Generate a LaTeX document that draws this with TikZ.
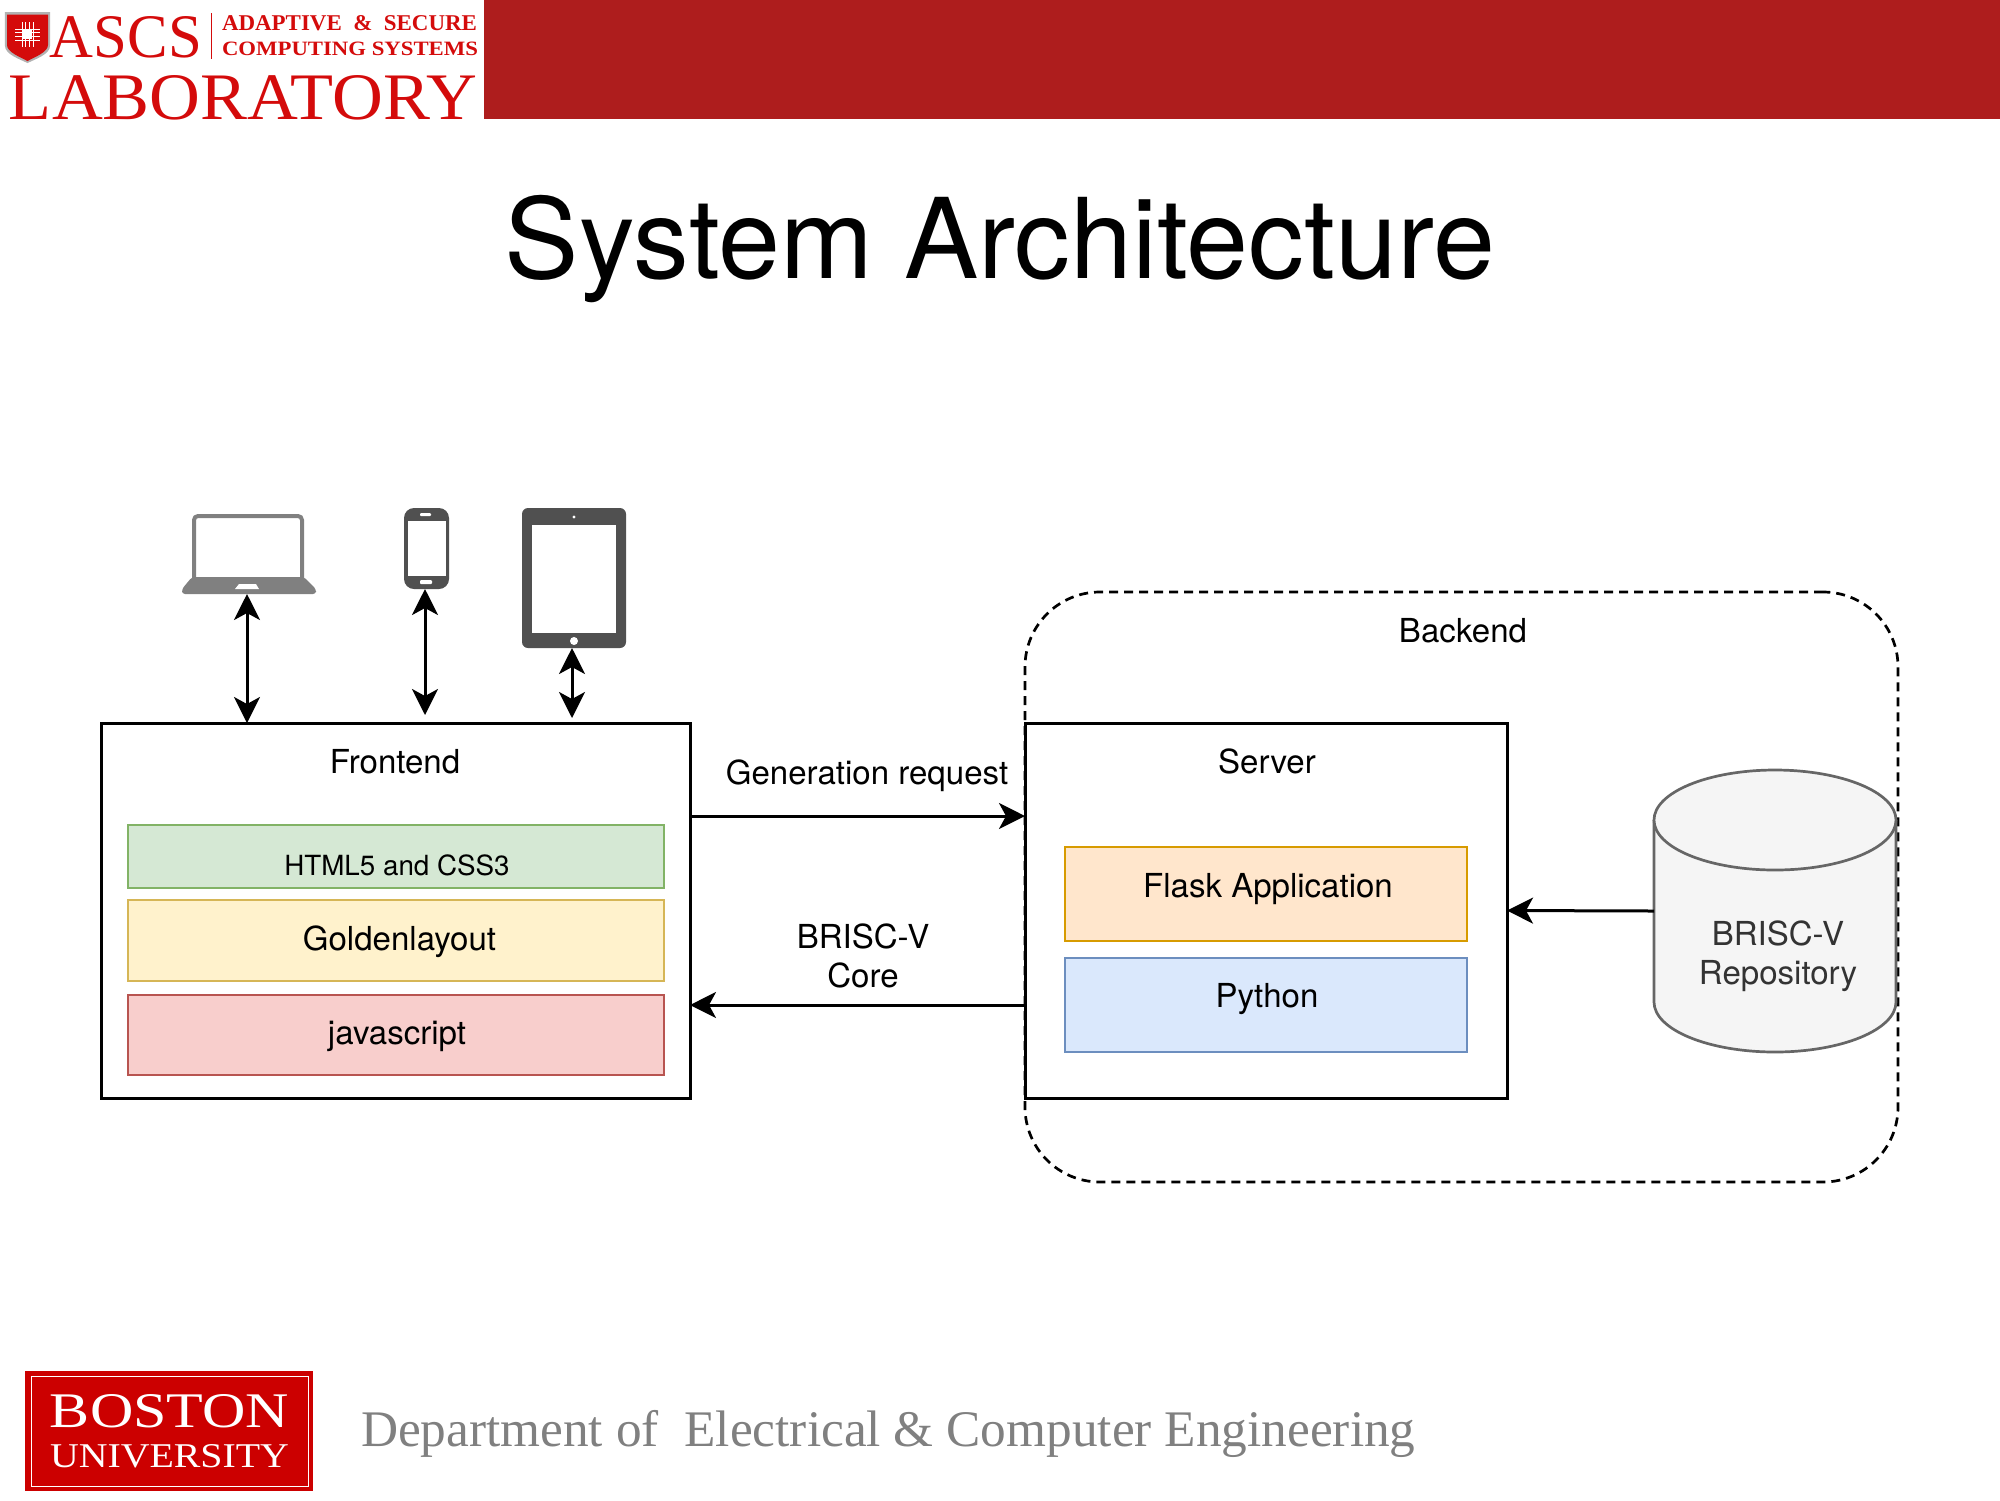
\documentclass[tikz,border=0pt]{standalone}
\usepackage{fontspec}
\setmainfont{TeX Gyre Heros}
\newfontfamily\logofont{Liberation Serif}
\usetikzlibrary{arrows.meta}

\definecolor{barred}{HTML}{AE1D1D}
\definecolor{logored}{HTML}{D40B0B}
\definecolor{burgund}{HTML}{CC0000}
\definecolor{icondark}{HTML}{505050}
\definecolor{iconlight}{HTML}{808080}
\definecolor{htmlline}{RGB}{130,179,102}
\definecolor{htmlfill}{RGB}{213,232,212}
\definecolor{goldline}{RGB}{214,182,86}
\definecolor{goldfill}{RGB}{255,242,204}
\definecolor{jsline}{RGB}{184,84,80}
\definecolor{jsfill}{RGB}{248,206,204}
\definecolor{flaskline}{RGB}{215,155,0}
\definecolor{flaskfill}{RGB}{255,230,204}
\definecolor{pyline}{RGB}{108,142,191}
\definecolor{pyfill}{RGB}{218,232,252}
\definecolor{repoline}{RGB}{102,102,102}
\definecolor{repofill}{RGB}{245,245,245}
\definecolor{repotext}{RGB}{51,51,51}

\tikzset{
	box/.style={draw, line width=0.3mm, fill=white, inner sep=0, outer sep=0},
	layer/.style={draw, line width=0.27mm, inner sep=0, outer sep=0},
	lbl/.style={font=\fontsize{9.4}{11.2}\selectfont, align=center, inner sep=0},
	logotxt/.style={font=\logofont, anchor=north west, inner sep=0, outer sep=0},
	icon/.style={inner sep=0, outer sep=0},
	link/.style={line width=0.3mm}
}

\begin{document}
\begin{tikzpicture}[yscale=-1, >={Stealth[length=2.6mm,width=2.6mm,inset=0.7mm]}]%coordinates read from the top left

	\useasboundingbox (0,0) rectangle (200mm,150mm);

	\fill [barred] (48.4mm,0) rectangle (200mm,11.9mm);%header bar

	%header logo
	\fill [gray!60] (0.5mm,1.2mm)--(5mm,1.2mm)--(5mm,4.6mm)..controls (5mm,5.4mm) and (3.6mm,5.9mm)..(2.75mm,6.3mm)..controls (1.9mm,5.9mm) and (0.5mm,5.4mm)..(0.5mm,4.6mm)--cycle;
	\fill [logored] (0.7mm,1.45mm)--(4.8mm,1.45mm)--(4.8mm,4.5mm)..controls (4.8mm,5.2mm) and (3.5mm,5.7mm)..(2.75mm,6.1mm)..controls (2mm,5.7mm) and (0.7mm,5.2mm)..(0.7mm,4.5mm)--cycle;
	\fill [white] (2.3mm,3mm) rectangle (3.2mm,3.9mm);%chip
	\foreach \i in {0,1,2,3}
	\draw [white, line width=0.08mm] (1.5mm,2.9mm+\i*0.37mm)--(4mm,2.9mm+\i*0.37mm);
	\foreach \i in {0,1,2,3}
	\draw [white, line width=0.08mm] (2.2mm+\i*0.37mm,2.2mm)--(2.2mm+\i*0.37mm,4.7mm);
	\node [logotxt, text=logored] (ascs) at (5mm,1.6mm) {\resizebox{15.2mm}{4.1mm}{ASCS}};
	\draw [logored, line width=0.08mm] (21.1mm,1.3mm)--(21.1mm,5.9mm);
	\node [logotxt, text=logored] (adaptive) at (22.2mm,1.5mm) {\resizebox{25.5mm}{1.5mm}{\bfseries ADAPTIVE\ \ \&\ \ SECURE}};
	\node [logotxt, text=logored] (computing) at (22.2mm,4.2mm) {\resizebox{25.6mm}{1.35mm}{\bfseries COMPUTING SYSTEMS}};
	\node [logotxt, text=logored] (laboratory) at (0.9mm,7.5mm) {\resizebox{46.8mm}{4.4mm}{LABORATORY}};

	\node [icon, font=\fontsize{31.7}{34}\selectfont] (title) at (100mm,24.9mm) {System Architecture};

	%devices
	\node [icon, minimum width=13.4mm, minimum height=8mm] (laptop) at (24.7mm,55.4mm) {};
	\node [icon, minimum width=4.5mm, minimum height=8.1mm] (phone) at (42.5mm,54.85mm) {};
	\node [icon, minimum width=10.4mm, minimum height=14mm] (tablet) at (57.2mm,57.8mm) {};

	\draw [iconlight, line width=0.4mm, rounded corners=0.4mm] (19.4mm,58mm)--(19.4mm,51.6mm)--(30.2mm,51.6mm)--(30.2mm,58mm);%laptop
	\fill [iconlight, rounded corners=0.3mm] (19.2mm,57.7mm)--(30.4mm,57.7mm)--(31.6mm,58.9mm)--(31.6mm,59.4mm)--(18.2mm,59.4mm)--(18.2mm,58.9mm)--cycle;
	\fill [white] (23.9mm,58.4mm)--(25.6mm,58.4mm)--(25.9mm,58.9mm)--(23.5mm,58.9mm)--cycle;

	\fill [icondark, rounded corners=1mm] (40.4mm,50.8mm) rectangle (44.9mm,58.9mm);%phone
	\fill [white] (40.8mm,52.1mm) rectangle (44.6mm,57.6mm);
	\fill [white, rounded corners=0.1mm] (42mm,51.3mm) rectangle (43.1mm,51.6mm);
	\fill [white, rounded corners=0.1mm] (42mm,58mm) rectangle (43.2mm,58.4mm);

	\fill [icondark, rounded corners=0.6mm] (52.2mm,50.8mm) rectangle (62.6mm,64.8mm);%tablet
	\fill [white] (53.2mm,52.5mm) rectangle (61.6mm,63.3mm);
	\fill [white] (57.4mm,51.7mm) circle [radius=0.17mm];
	\fill [white] (57.4mm,64.1mm) circle [radius=0.4mm];

	%backend
	\node [draw, line width=0.27mm, dash pattern=on 0.9mm off 0.6mm, rounded corners=7.5mm, inner sep=0, outer sep=0, minimum width=87.3mm, minimum height=59mm] (backend) at (146.15mm,88.7mm) {};
	\node [lbl] (backendlbl) at (146.3mm,63.1mm) {Backend};

	%frontend
	\node [box, minimum width=58.9mm, minimum height=37.5mm] (frontend) at (39.55mm,91.05mm) {};
	\node [lbl] (frontendlbl) at (39.5mm,76.2mm) {Frontend};
	\node [layer, draw=htmlline, fill=htmlfill, minimum width=53.6mm, minimum height=6.3mm] (html) at (39.6mm,85.65mm) {};
	\node [lbl, font=\fontsize{7.9}{10}\selectfont] (htmllbl) at (39.7mm,86.5mm) {HTML5 and CSS3};
	\node [layer, draw=goldline, fill=goldfill, minimum width=53.6mm, minimum height=8.1mm] (golden) at (39.6mm,94.05mm) {};
	\node [lbl] (goldenlbl) at (39.95mm,94.15mm) {Goldenlayout};
	\node [layer, draw=jsline, fill=jsfill, minimum width=53.6mm, minimum height=8mm] (jscript) at (39.6mm,103.5mm) {};
	\node [lbl] (jscriptlbl) at (39.7mm,103.65mm) {javascript};

	%server
	\node [box, minimum width=48.2mm, minimum height=37.5mm] (server) at (126.6mm,91.05mm) {};
	\node [lbl] (serverlbl) at (126.7mm,76.1mm) {Server};
	\node [layer, draw=flaskline, fill=flaskfill, minimum width=40.2mm, minimum height=9.4mm] (flask) at (126.6mm,89.4mm) {};
	\node [lbl] (flasklbl) at (126.8mm,88.9mm) {Flask Application};
	\node [layer, draw=pyline, fill=pyfill, minimum width=40.2mm, minimum height=9.4mm] (python) at (126.6mm,100.5mm) {};
	\node [lbl] (pythonlbl) at (126.7mm,99.9mm) {Python};

	%repository
	\node [icon, minimum width=24.2mm, minimum height=28.2mm] (repo) at (177.5mm,91.1mm) {};
	\draw [repoline, fill=repofill, line width=0.27mm] (165.4mm,82mm)--(165.4mm,100.2mm) arc [start angle=180, end angle=0, x radius=12.1mm, y radius=5mm]--(189.6mm,82mm);
	\draw [repoline, fill=repofill, line width=0.27mm] (177.5mm,82mm) ellipse (12.1mm and 5mm);
	\node [lbl, text=repotext] (repolbl) at (177.8mm,95.6mm) {BRISC-V\\Repository};

	%connectors
	\draw [link, <->] (laptop.south)--(laptop.south |- frontend.north);
	\draw [link, <->] (phone.south)--([yshift=-0.8mm]phone.south |- frontend.north);
	\draw [link, <->] (tablet.south)--([yshift=-0.5mm]tablet.south |- frontend.north);
	\draw [link, ->] ([yshift=-9.45mm]frontend.east)--([yshift=-9.45mm]server.west);
	\node [lbl] (reqlbl) at (86.7mm,77.6mm) {Generation request};
	\draw [link, ->] ([yshift=9.45mm]server.west)--([yshift=9.45mm]frontend.east);
	\node [lbl] (corelbl) at (86.3mm,95.6mm) {BRISC-V\\Core};
	\draw [link, ->] (repo.west)--(server.east);

	%footer
	\node [icon, fill=burgund, minimum width=28.8mm, minimum height=12mm] (bu) at (16.9mm,143.1mm) {};
	\draw [white, line width=0.08mm] (3.1mm,137.6mm) rectangle (30.8mm,148.6mm);
	\node [logotxt, text=white] (boston) at (5mm,139.4mm) {\resizebox{23.9mm}{3.3mm}{BOSTON}};
	\node [logotxt, text=white] (univ) at (5mm,144.4mm) {\resizebox{23.9mm}{2.3mm}{UNIVERSITY}};
	\node [logotxt, anchor=west, text=iconlight, font=\logofont\fontsize{14.6}{16}\selectfont] (dept) at (36.1mm,143.4mm) {Department of\ \ Electrical \& Computer Engineering};
\end{tikzpicture}
\end{document}
